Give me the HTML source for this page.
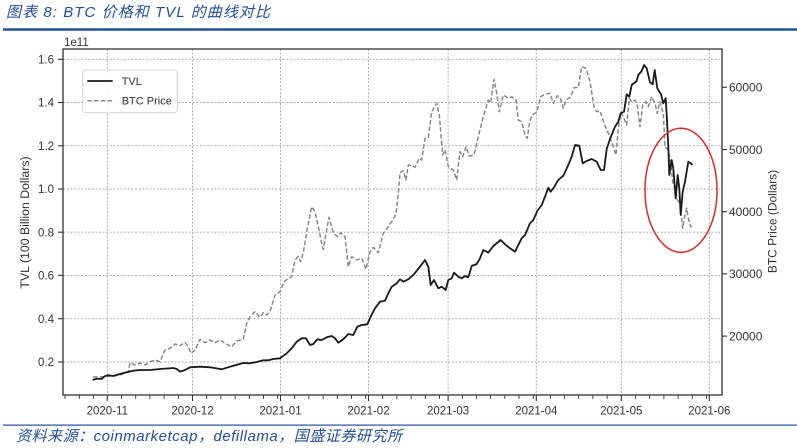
<!DOCTYPE html>
<html><head><meta charset="utf-8"><style>
html,body{margin:0;padding:0;background:#fff;}
svg{display:block;}
text{font-family:"Liberation Sans","Noto Sans CJK SC",sans-serif;}
</style></head><body>
<svg width="797" height="448" viewBox="0 0 797 448" xmlns="http://www.w3.org/2000/svg">
<rect width="797" height="448" fill="#fff"/>
<!-- title -->
<text x="6" y="17" font-size="15" font-style="italic" fill="#1f4f9f" textLength="264" lengthAdjust="spacing">图表 8:  BTC 价格和 TVL 的曲线对比</text>
<rect x="3" y="28.3" width="794" height="2.4" fill="#1b4b9a"/>
<!-- grid -->
<g stroke="#a8a8a8" stroke-width="0.9" stroke-dasharray="2,1.6" fill="none">
<line x1="107.3" y1="49" x2="107.3" y2="395"/>
<line x1="192.5" y1="49" x2="192.5" y2="395"/>
<line x1="280.5" y1="49" x2="280.5" y2="395"/>
<line x1="368.5" y1="49" x2="368.5" y2="395"/>
<line x1="448.1" y1="49" x2="448.1" y2="395"/>
<line x1="536.3" y1="49" x2="536.3" y2="395"/>
<line x1="621.3" y1="49" x2="621.3" y2="395"/>
<line x1="709.3" y1="49" x2="709.3" y2="395"/>
<line x1="63" y1="59.3" x2="722" y2="59.3"/>
<line x1="63" y1="102.5" x2="722" y2="102.5"/>
<line x1="63" y1="145.7" x2="722" y2="145.7"/>
<line x1="63" y1="189" x2="722" y2="189"/>
<line x1="63" y1="232.2" x2="722" y2="232.2"/>
<line x1="63" y1="275.4" x2="722" y2="275.4"/>
<line x1="63" y1="318.7" x2="722" y2="318.7"/>
<line x1="63" y1="362" x2="722" y2="362"/>
</g>
<!-- BTC price (dashed) -->
<polyline fill="none" stroke="#858585" stroke-width="1.45" stroke-dasharray="4.5,2.2" stroke-linejoin="round" points="93,377 100,377 110,376 120,375 128.3,371.7 130,362.7 135,365 140,363 145,365 150,361.7 155,360 160,361.7 165,350 170,348.3 175,344 180,345.7 185,342.3 188.3,346.7 191,353.3 195,350 200,339.3 205,342.7 210,340 215,342.7 220,340 225,343.3 231.7,346.7 236.7,341 243.3,339.3 246.7,323.3 250,316.7 255,311.7 260,317.3 263.3,312.7 266.7,315 270,311.7 275,295 280,291.7 283.3,283.3 285,280.7 291.7,276.7 295,260 298.3,256.7 300.7,261.7 303.3,252.7 306.7,231.7 311.7,206.7 315,211.7 318.3,226.7 321.7,243.3 323.3,249.3 326,233.3 329,217.3 333.3,232.7 337.3,236.7 340.7,232.7 345,236.7 348.3,266.7 351.7,256.7 356.7,260 361.7,258.3 366,269.3 370,251.7 373.3,247.3 378.3,252.7 383.3,233.3 388.3,226.7 392.7,220 396,214 398.3,193.3 400,172.7 403.3,170.7 406,180 408.3,165 412.7,166 415,167.3 419.3,158.3 421.7,160 425,138.3 428.3,137.3 431.7,111.7 436.7,103.3 439.3,115 442.7,155 445,150 448.3,166.7 453.3,170 456.7,180 460,151.7 462.7,156.7 466,146.7 469.3,156 474,155 478.3,136.7 483.3,116.7 488.3,100 490.7,102.7 494,79.3 496.7,93.3 499.3,111.7 503.3,95 508.3,98.3 511.7,96.7 516,100 518.3,120 521.7,121.7 525,135 527.3,138.3 530,120 533.3,114.3 536.7,112.3 540.7,96.7 545,94.3 550,93.3 553.3,103.3 557.3,95.7 560.7,99 563.3,108.3 566,100 570.7,96.7 574,87.7 578.3,87.3 581.7,66.7 586,68.3 590,81.7 594,106.7 596.7,111.7 600,111 604,123.3 608.3,133.3 612.7,145 616,155 618.3,128.3 620.7,113.3 623.3,116.7 626.7,125 629.3,98.3 631.7,101.7 635,100 637.3,105 640,126.7 642.7,105 645.7,101.7 648.3,106.7 651.7,96.7 655,103.3 657.3,113.3 660,101.7 663.3,113.3 665,146.7 668.3,150 670.7,163.3 672.7,181.7 675,188.3 677.3,200 680,203.3 682.7,228.3 685,215 686.7,208.3 688.3,218.3 690.7,226.7 693.3,226.7"/>
<!-- TVL (solid) -->
<polyline fill="none" stroke="#1a1a1a" stroke-width="1.8" stroke-linejoin="round" points="92.7,380 96.7,378.7 101.7,379 105,376 108.3,375.3 113.3,376 120,374 126.7,372.3 133.3,370.7 140,370 150,370 160,369 173.3,368 176.7,369 180,371.7 185,370 190,367.3 200,366.7 210,367.3 221.7,369.3 230,366.7 243.3,363 250,363.3 256.7,362 263.3,360.3 268.3,360.3 273.3,359 280,358.3 286.7,353.3 291.7,348.3 296.7,341.7 301.7,338.3 306,338.3 310,345 313.3,344 317.3,339.3 321.7,340 326.7,337.3 331.7,336 335,338.3 338.3,342.7 343.3,339.3 348.3,334 353.3,335 357.3,326.7 361.7,325 367.3,324.3 370.7,316.7 375,308.3 380,301.7 385,300.7 388.3,293.3 391.7,286.7 396.7,283.3 400,279.3 403.3,281.7 408.3,279.3 413.3,275 420,266.7 425,260 428.3,266.7 430.7,285 434,280 438.3,288.3 441.7,286.7 445.7,290 448.3,280 451.7,278.3 454,272.7 458.3,276.7 461.7,278.3 465,276 468.3,277.3 471.7,266 476.7,264 480,258.3 483.3,250 488.3,252.7 493.3,246 500.7,240 505,244.3 510,248.3 515,251.7 518.3,245 521.7,238.3 525,235 530,223.3 533.3,220 537.3,211 541.7,205 545,196.7 548.3,187.7 550.7,191.7 553.3,188.3 558.3,180 563.3,175.7 568.3,165 571.7,156.7 575,145 579.3,145.7 582.7,163.3 586.7,161 591.7,159 596.7,161.7 600.7,170 604,170 606.7,149 610,139 615,126.7 618.3,121.7 620.7,113.3 624,111.7 626.7,94.3 629.3,96.7 631.7,85 636.7,81 638.3,75 641.7,71 644,65 646.7,68.3 650,82.3 652.7,84.3 654.7,70 657.3,88.3 661,94.3 663.3,103.3 665.7,98.3 666.7,115 668.3,146.7 669.3,175 671.7,160 673.3,168.3 675.7,198.3 677.7,175 679.3,188.3 680.7,215 682.7,191.7 685,181.7 688.3,161.7 690.7,163.3 692.5,165"/>
<!-- red ellipse -->
<ellipse cx="681" cy="190.3" rx="36" ry="62" fill="none" stroke="#e3262b" stroke-width="1.5"/>
<!-- spines -->
<rect x="63" y="49" width="659" height="346" fill="none" stroke="#333" stroke-width="1.3"/>
<!-- ticks -->
<g stroke="#333" stroke-width="1.1">
<line x1="58" y1="59.3" x2="63" y2="59.3"/><line x1="58" y1="102.5" x2="63" y2="102.5"/><line x1="58" y1="145.7" x2="63" y2="145.7"/><line x1="58" y1="189" x2="63" y2="189"/><line x1="58" y1="232.2" x2="63" y2="232.2"/><line x1="58" y1="275.4" x2="63" y2="275.4"/><line x1="58" y1="318.7" x2="63" y2="318.7"/><line x1="58" y1="362" x2="63" y2="362"/>
<line x1="722" y1="87.3" x2="727" y2="87.3"/><line x1="722" y1="149.5" x2="727" y2="149.5"/><line x1="722" y1="211.7" x2="727" y2="211.7"/><line x1="722" y1="273.9" x2="727" y2="273.9"/><line x1="722" y1="336.1" x2="727" y2="336.1"/>
<line x1="107.3" y1="395" x2="107.3" y2="401"/><line x1="192.5" y1="395" x2="192.5" y2="401"/><line x1="280.5" y1="395" x2="280.5" y2="401"/><line x1="368.5" y1="395" x2="368.5" y2="401"/><line x1="448.1" y1="395" x2="448.1" y2="401"/><line x1="536.3" y1="395" x2="536.3" y2="401"/><line x1="621.3" y1="395" x2="621.3" y2="401"/><line x1="709.3" y1="395" x2="709.3" y2="401"/>
</g>
<g stroke="#333" stroke-width="0.9">
<line x1="65" y1="395" x2="65" y2="399"/><line x1="79.3" y1="395" x2="79.3" y2="399"/><line x1="93.3" y1="395" x2="93.3" y2="399"/>
<line x1="121.5" y1="395" x2="121.5" y2="399"/><line x1="135.7" y1="395" x2="135.7" y2="399"/><line x1="149.9" y1="395" x2="149.9" y2="399"/><line x1="164.1" y1="395" x2="164.1" y2="399"/><line x1="178.3" y1="395" x2="178.3" y2="399"/>
<line x1="206.7" y1="395" x2="206.7" y2="399"/><line x1="220.9" y1="395" x2="220.9" y2="399"/><line x1="235.1" y1="395" x2="235.1" y2="399"/><line x1="249.3" y1="395" x2="249.3" y2="399"/><line x1="263.5" y1="395" x2="263.5" y2="399"/><line x1="277.7" y1="395" x2="277.7" y2="399"/>
<line x1="294.7" y1="395" x2="294.7" y2="399"/><line x1="308.9" y1="395" x2="308.9" y2="399"/><line x1="323.1" y1="395" x2="323.1" y2="399"/><line x1="337.3" y1="395" x2="337.3" y2="399"/><line x1="351.5" y1="395" x2="351.5" y2="399"/><line x1="365.7" y1="395" x2="365.7" y2="399"/>
<line x1="382.7" y1="395" x2="382.7" y2="399"/><line x1="396.9" y1="395" x2="396.9" y2="399"/><line x1="411.1" y1="395" x2="411.1" y2="399"/><line x1="425.3" y1="395" x2="425.3" y2="399"/><line x1="439.5" y1="395" x2="439.5" y2="399"/>
<line x1="462.3" y1="395" x2="462.3" y2="399"/><line x1="476.5" y1="395" x2="476.5" y2="399"/><line x1="490.6" y1="395" x2="490.6" y2="399"/><line x1="504.8" y1="395" x2="504.8" y2="399"/><line x1="519" y1="395" x2="519" y2="399"/><line x1="533.2" y1="395" x2="533.2" y2="399"/>
<line x1="550.3" y1="395" x2="550.3" y2="399"/><line x1="564.5" y1="395" x2="564.5" y2="399"/><line x1="578.7" y1="395" x2="578.7" y2="399"/><line x1="592.9" y1="395" x2="592.9" y2="399"/><line x1="607.1" y1="395" x2="607.1" y2="399"/>
<line x1="635.5" y1="395" x2="635.5" y2="399"/><line x1="649.7" y1="395" x2="649.7" y2="399"/><line x1="663.9" y1="395" x2="663.9" y2="399"/><line x1="678.1" y1="395" x2="678.1" y2="399"/><line x1="692.3" y1="395" x2="692.3" y2="399"/><line x1="706.5" y1="395" x2="706.5" y2="399"/>
</g>
<!-- left tick labels -->
<g font-size="11.5" fill="#333" text-anchor="end">
<text x="54" y="63.5">1.6</text><text x="54" y="106.7">1.4</text><text x="54" y="149.9">1.2</text><text x="54" y="193.2">1.0</text><text x="54" y="236.4">0.8</text><text x="54" y="279.6">0.6</text><text x="54" y="322.9">0.4</text><text x="54" y="366.2">0.2</text>
</g>
<text x="64" y="46" font-size="11.5" fill="#333">1e11</text>
<!-- right tick labels -->
<g font-size="12" fill="#333">
<text x="729" y="91.6">60000</text><text x="729" y="153.8">50000</text><text x="729" y="216">40000</text><text x="729" y="278.2">30000</text><text x="729" y="340.4">20000</text>
</g>
<!-- bottom tick labels -->
<g font-size="11.5" fill="#333" text-anchor="middle">
<text x="107.3" y="414.5">2020-11</text><text x="192.5" y="414.5">2020-12</text><text x="280.5" y="414.5">2021-01</text><text x="368.5" y="414.5">2021-02</text><text x="448.1" y="414.5">2021-03</text><text x="536.3" y="414.5">2021-04</text><text x="621.3" y="414.5">2021-05</text><text x="709.3" y="414.5">2021-06</text>
</g>
<!-- axis labels -->
<text transform="translate(29,222.5) rotate(-90)" font-size="12.3" fill="#333" text-anchor="middle">TVL (100 Billion Dollars)</text>
<text transform="translate(776.5,221.5) rotate(-90)" font-size="12" fill="#333" text-anchor="middle">BTC Price (Dollars)</text>
<!-- legend -->
<rect x="82.7" y="70" width="94.6" height="42.7" rx="3" ry="3" fill="#fff" fill-opacity="0.85" stroke="#d4d4d4" stroke-width="1"/>
<line x1="87.3" y1="81" x2="112.7" y2="81" stroke="#1a1a1a" stroke-width="1.8"/>
<line x1="87.3" y1="100.7" x2="112.7" y2="100.7" stroke="#858585" stroke-width="1.45" stroke-dasharray="4.5,2.2"/>
<text x="121.7" y="85" font-size="11" fill="#333">TVL</text>
<text x="121.7" y="104.7" font-size="11" fill="#333">BTC Price</text>
<!-- source -->
<rect x="3" y="424.5" width="794" height="1.2" fill="#2050a0"/>
<text x="16" y="441" font-size="15" font-style="italic" fill="#1f4fa3" textLength="386" lengthAdjust="spacing">资料来源：coinmarketcap，defillama，国盛证券研究所</text>
</svg>
</body></html>
